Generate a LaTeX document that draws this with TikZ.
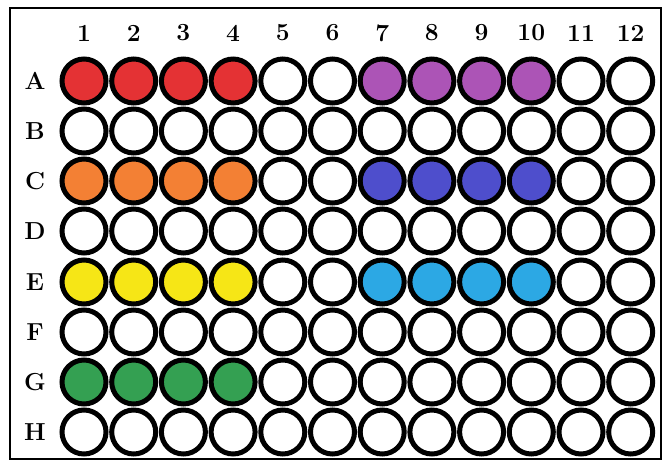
\documentclass[tikz,border=0pt]{standalone}
\usepackage{tikz}
\usetikzlibrary{positioning}
\definecolor{wellRed}{RGB}{228,50,52}
\definecolor{wellPurple}{RGB}{172,84,182}
\definecolor{wellOrange}{RGB}{243,128,52}
\definecolor{wellBlue}{RGB}{78,78,204}
\definecolor{wellYellow}{RGB}{246,230,22}
\definecolor{wellCyan}{RGB}{44,168,228}
\definecolor{wellGreen}{RGB}{52,160,82}

\begin{document}
\begin{tikzpicture}[x=0.02cm,y=-0.02cm,
    well/.style={circle,draw=black,line width=0.1cm,minimum size=0.88cm,inner sep=0pt},
    platelabel/.style={font=\fontsize{14}{16}\selectfont\bfseries,inner sep=1pt}]
    \useasboundingbox (0,0) rectangle (663,470);
    \draw[line width=0.04cm] (10,8) rectangle (661,459);
    % column numbers
    \foreach \c in {1,...,12}
        \node[platelabel] (col\c) at ({84+49.7*(\c-1)},33) {\c};
    % rows of wells
    \foreach \row/\y/\lcol/\rcol in {
      A/81/wellRed/wellPurple,
      B/131/white/white,
      C/181/wellOrange/wellBlue,
      D/231/white/white,
      E/282/wellYellow/wellCyan,
      F/332/white/white,
      G/382/wellGreen/white,
      H/432/white/white} {
        \node[platelabel] (row\row) at (35,\y) {\row};
        \foreach \c in {1,...,12} {
            \ifnum\c<5 \def\fc{\lcol}\else
              \ifnum\c>6 \ifnum\c<11 \def\fc{\rcol}\else\def\fc{white}\fi
              \else\def\fc{white}\fi
            \fi
            \node[well,fill=\fc] (\row\c) at ({84+49.7*(\c-1)},\y) {};
        }
    }
\end{tikzpicture}
\end{document}
